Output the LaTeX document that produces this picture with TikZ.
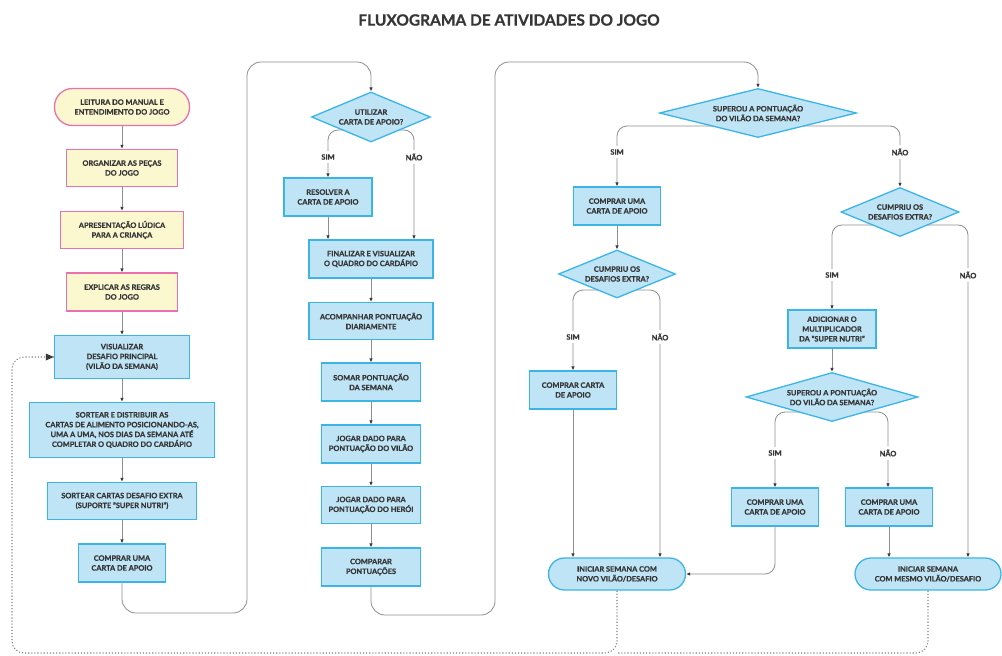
\documentclass[tikz,border=0pt]{standalone}
\usepackage{fontspec}
\setmainfont{Lato}[BoldFeatures={FakeBold=0.7}]
\usetikzlibrary{arrows.meta,shapes.geometric,calc}
\pgfdeclarelayer{back}
\pgfdeclarelayer{bg}
\pgfsetlayers{back,bg,main}
\definecolor{bblue}{HTML}{3BB5E6}
\definecolor{bfill}{HTML}{BEE4F5}
\definecolor{pinkb}{HTML}{EC6FAE}
\definecolor{yfill}{HTML}{FBF7CF}
\definecolor{txt}{HTML}{363636}
\definecolor{lineg}{HTML}{8E8E8E}
\definecolor{tipg}{HTML}{3A3A3A}
\tikzset{
  x=1pt, y=-1pt,
  boxtext/.style={font=\bfseries\fontsize{7.4}{9.8}\selectfont, text=txt, align=center},
  proc/.style={boxtext, rectangle, draw=bblue, fill=bfill, line width=1.3pt, inner sep=0pt},
  pproc/.style={proc, draw=pinkb, fill=yfill},
  term/.style={proc, rounded corners=16pt},
  pterm/.style={pproc, rounded corners=18pt},
  dec/.style={diamond, draw=bblue, fill=bfill, line width=1.3pt, inner sep=0pt, aspect=2},
  conn/.style={draw=lineg, line width=0.8pt, -{Latex[length=4pt,width=3.6pt,color=tipg]}},
  plain/.style={draw=lineg, line width=0.8pt},
  loopline/.style={draw=lineg!90!black, line width=1.1pt, dotted, rounded corners=12pt},
  branch/.style={conn, rounded corners=10pt},
  yn/.style={font=\bfseries\fontsize{7.4}{8}\selectfont, text=txt, fill=white, inner sep=3.5pt}
}
\newcommand{\decision}[6]{%
  \node[dec, minimum width=#3, minimum height=#4] (#1) at #2 {};
  \node[boxtext] (#5) at (#1.center) {#6};
}
\begin{document}
\begin{tikzpicture}
\useasboundingbox (0,0) rectangle (1002,656);
\begin{pgfonlayer}{back}
\fill[white] (0,0) rectangle (1002,656);
\end{pgfonlayer}

% heading
\node[font=\bfseries\fontsize{15.5}{18}\selectfont, text=txt] (title) at (509,20) {FLUXOGRAMA DE ATIVIDADES DO JOGO};

% first column: preparation
\node[pterm, minimum width=135pt, minimum height=37pt] (ini) at (122,107) {LEITURA DO MANUAL E\\ENTENDIMENTO DO JOGO};
\node[pproc, minimum width=111pt, minimum height=37pt] (org) at (122,168) {ORGANIZAR AS PEÇAS\\DO JOGO};
\node[pproc, minimum width=123pt, minimum height=37pt] (apr) at (122,230) {APRESENTAÇÃO LÚDICA\\PARA A CRIANÇA};
\node[pproc, minimum width=111pt, minimum height=38pt] (exp) at (122,292) {EXPLICAR AS REGRAS\\DO JOGO};
\node[proc, minimum width=135pt, minimum height=43pt] (vis) at (122,357) {VISUALIZAR\\DESAFIO PRINCIPAL\\(VILÃO DA SEMANA)};
\node[proc, minimum width=185pt, minimum height=55pt] (sor) at (122,430) {SORTEAR E DISTRIBUIR AS\\CARTAS DE ALIMENTO POSICIONANDO-AS,\\UMA A UMA, NOS DIAS DA SEMANA ATÉ\\COMPLETAR O QUADRO DO CARDÁPIO};
\node[proc, minimum width=149pt, minimum height=37pt] (sext) at (122,501) {SORTEAR CARTAS DESAFIO EXTRA\\(SUPORTE "SUPER NUTRI")};
\node[proc, minimum width=87pt, minimum height=38pt] (cmp1) at (122,563) {COMPRAR UMA\\CARTA DE APOIO};

% second column: the week
\decision{util}{(371,117)}{119pt}{50pt}{utilt}{UTILIZAR\\CARTA DE APOIO?}
\node[proc, minimum width=88pt, minimum height=38pt] (res) at (328,197) {RESOLVER A\\CARTA DE APOIO};
\node[proc, minimum width=124pt, minimum height=38pt] (fin) at (371,259) {FINALIZAR E VISUALIZAR\\O QUADRO DO CARDÁPIO};
\node[proc, minimum width=124pt, minimum height=37pt] (aco) at (371,321) {ACOMPANHAR PONTUAÇÃO\\DIARIAMENTE};
\node[proc, minimum width=99pt, minimum height=38pt] (som) at (371,382) {SOMAR PONTUAÇÃO\\DA SEMANA};
\node[proc, minimum width=99pt, minimum height=38pt] (jv) at (371,444) {JOGAR DADO PARA\\PONTUAÇÃO DO VILÃO};
\node[proc, minimum width=99pt, minimum height=37pt] (jh) at (371,505) {JOGAR DADO PARA\\PONTUAÇÃO DO HERÓI};
\node[proc, minimum width=99pt, minimum height=38pt] (cpp) at (371,567) {COMPARAR\\PONTUAÇÕES};

% third and fourth columns: outcome of the week
\decision{sup}{(758,113)}{197pt}{49pt}{supt}{SUPEROU A PONTUAÇÃO\\DO VILÃO DA SEMANA?}
\node[proc, minimum width=87pt, minimum height=38pt] (cb1) at (617,206) {COMPRAR UMA\\CARTA DE APOIO};
\decision{cul}{(617,274)}{117pt}{48pt}{cult}{CUMPRIU OS\\DESAFIOS EXTRA?}
\node[proc, minimum width=87pt, minimum height=38pt] (cca) at (573,390) {COMPRAR CARTA\\DE APOIO};
\node[term, minimum width=137pt, minimum height=32pt] (inov) at (617,574) {INICIAR SEMANA COM\\NOVO VILÃO/DESAFIO};

\decision{cur}{(900,212)}{118pt}{49pt}{curt}{CUMPRIU OS\\DESAFIOS EXTRA?}
\node[proc, minimum width=88pt, minimum height=38pt] (adi) at (832,329) {ADICIONAR O\\MULTIPLICADOR\\DA "SUPER NUTRI"};
\decision{sup2}{(832,397)}{172pt}{49pt}{sup2t}{SUPEROU A PONTUAÇÃO\\DO VILÃO DA SEMANA?}
\node[proc, minimum width=87pt, minimum height=38pt] (cs) at (775,507) {COMPRAR UMA\\CARTA DE APOIO};
\node[proc, minimum width=87pt, minimum height=38pt] (cn) at (889,507) {COMPRAR UMA\\CARTA DE APOIO};
\node[term, minimum width=146pt, minimum height=32pt] (imes) at (928,574) {INICIAR SEMANA\\COM MESMO VILÃO/DESAFIO};

% branch labels
\node[yn] (s1) at (328,157) {SIM};
\node[yn] (n1) at (414,157) {NÃO};
\node[yn] (s2) at (617,152) {SIM};
\node[yn] (n2) at (900,152) {NÃO};
\node[yn] (s3) at (573,337) {SIM};
\node[yn] (n3) at (660,337) {NÃO};
\node[yn] (s4) at (832,275) {SIM};
\node[yn] (n4) at (968,275) {NÃO};
\node[yn] (s5) at (775,453) {SIM};
\node[yn] (n5) at (888,453) {NÃO};

\begin{pgfonlayer}{bg}
  % straight sequence
  \draw[conn] (ini) -- (org);
  \draw[conn] (org) -- (apr);
  \draw[conn] (apr) -- (exp);
  \draw[conn] (exp) -- (vis);
  \draw[conn] (vis) -- (sor);
  \draw[conn] (sor) -- (sext);
  \draw[conn] (sext) -- (cmp1);
  \draw[conn, rounded corners=14pt] (cmp1.south) |- (247,613) -- (247,62) -| (util.north);

  \draw[branch] ($(util.center)+(0,13)$) -| (res.north);
  \draw[branch] ($(util.center)+(0,13)$) -| (n1.center) -- (n1 |- fin.north);
  \draw[conn] (res.south) -- (res |- fin.north);
  \draw[conn] (fin) -- (aco);
  \draw[conn] (aco) -- (som);
  \draw[conn] (som) -- (jv);
  \draw[conn] (jv) -- (jh);
  \draw[conn] (jh) -- (cpp);
  \draw[conn, rounded corners=14pt] (cpp.south) |- (495,615) -- (495,62) -| (sup.north);

  \draw[branch] ($(sup.center)+(0,13)$) -| (cb1.north);
  \draw[branch] ($(sup.center)+(0,13)$) -| (cur.north);
  \draw[conn] (cb1) -- (cul);
  \draw[branch] ($(cul.center)+(0,16)$) -| (cca.north);
  \draw[branch] ($(cul.center)+(0,16)$) -| (n3.center) -- (n3 |- inov.north);
  \draw[conn] (cca.south) -- (cca |- inov.north);

  \draw[branch] ($(cur.center)+(0,13)$) -| (adi.north);
  \draw[branch] ($(cur.center)+(0,13)$) -| (n4.center) -- (n4 |- imes.north);
  \draw[conn] (adi) -- (sup2);
  \draw[branch] ($(sup2.center)+(0,15)$) -| (cs.north);
  \draw[branch] ($(sup2.center)+(0,15)$) -| (n5.center) -- (n5 |- cn.north);
  \draw[branch] (cs.south) |- (inov.east);
  \draw[conn] (cn.south) -- (cn |- imes.north);

  % dotted return to the start of a new week
  \draw[loopline] (inov.south) |- (12,653) |- (vis.west);
  \draw[loopline] (imes.south) |- (inov.south |- 0,653);
\end{pgfonlayer}
\fill[tipg] (vis.west) -- ++(-8,-3.5) -- ++(0,7) -- cycle;
\end{tikzpicture}
\end{document}
